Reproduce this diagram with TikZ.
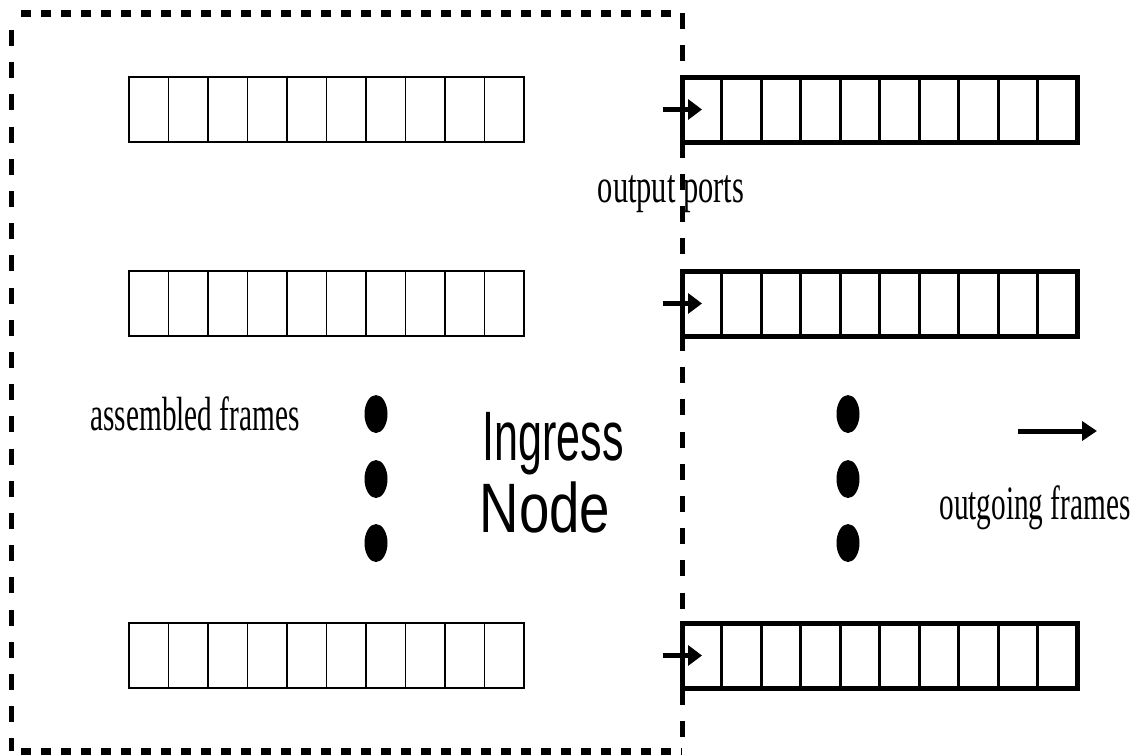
\documentclass[tikz,border=0pt]{standalone}
\usepackage{fontspec}
\setmainfont{Liberation Serif}
\newfontfamily\sansfnt{Liberation Sans}
\usetikzlibrary{arrows.meta,shapes.geometric}
\begin{document}
\begin{tikzpicture}[x=1pt,y=-1pt,
  inq/.style={draw, line width=1.8pt, minimum width=395pt, minimum height=65pt, inner sep=0pt, outer sep=0pt, anchor=north west},
  outq/.style={draw, line width=5pt, minimum width=395pt, minimum height=65pt, inner sep=0pt, outer sep=0pt, anchor=north west},
  lbl/.style={font=\fontsize{48}{48}\selectfont, xscale=0.61, inner sep=0pt, anchor=base},
  sanslbl/.style={font=\sansfnt\fontsize{70}{70}\selectfont, inner sep=0pt, anchor=base},
  bigdot/.style={fill, ellipse, minimum width=23pt, minimum height=38pt, inner sep=0pt},
  hborder/.style={line width=7pt, dash pattern=on 10pt off 10pt},
  vborder/.style={line width=5pt, dash pattern=on 16pt off 16.2pt},
  sarrow/.style={line width=5pt, -{Triangle[length=14pt,width=20pt]}},
  barrow/.style={line width=5pt, -{Triangle[length=15pt,width=19pt]}}
]
\useasboundingbox (0,0) rectangle (1136,755);

% dashed border of the ingress node
\coordinate (b1) at (21,13);
\coordinate (b2) at (673,13);
\coordinate (b3) at (21,751);
\coordinate (b4) at (682,751);
\coordinate (l1) at (11,30);
\coordinate (l2) at (11,751);
\coordinate (r1) at (682,13);
\coordinate (r2) at (682,737);
\draw[hborder] (b1) -- (b2);
\draw[hborder] (b3) -- (b4);
\draw[vborder] (l1) -- (l2);
\draw[vborder] (r1) -- (r2);

% queues
\foreach \i/\yy in {1/77,2/271,3/623} {
  \node[inq] (lq\i) at (129,\yy) {};
  \foreach \k in {1,...,9} {
    \draw[line width=1.8pt] (lq\i.north west) ++(\k*39.5,0) -- ++(0,65);
  }
  \node[outq] (rq\i) at (682,\yy) {};
  \foreach \k in {1,...,9} {
    \draw[line width=3pt] (rq\i.north west) ++(\k*39.5,0) -- ++(0,65);
  }
  \draw[sarrow] ([xshift=-19pt]rq\i.west) -- ([xshift=20pt]rq\i.west);
}

% dots
\node[bigdot] (ld1) at (376,414) {};
\node[bigdot] (ld2) at (376,479) {};
\node[bigdot] (ld3) at (376,543) {};
\node[bigdot] (rd1) at (848,414) {};
\node[bigdot] (rd2) at (848,479) {};
\node[bigdot] (rd3) at (848,543) {};

% outgoing arrow
\coordinate (ga) at (1018,431);
\coordinate (gb) at (1097,431);
\draw[barrow] (ga) -- (gb);

% labels
\node[lbl] (asm) at (195,430) {assembled frames};
\node[lbl, xscale=1.04] (outp) at (671,202) {output ports};
\node[lbl] (outg) at (1035,519) {outgoing frames};
\node[sanslbl, xscale=0.615] (ing) at (553,460) {Ingress};
\node[sanslbl, xscale=0.78] (nd) at (545,532) {Node};
\end{tikzpicture}
\end{document}
